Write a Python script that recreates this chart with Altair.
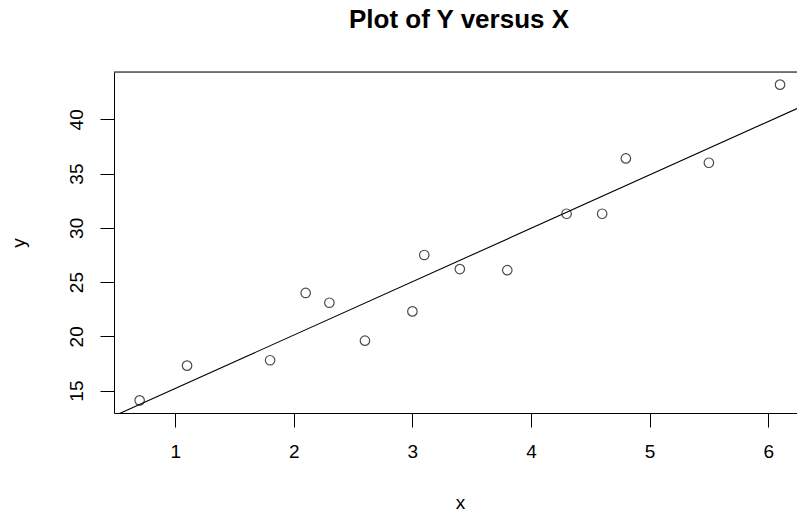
import altair as alt
import pandas as pd

# Data (fire damage style data)
x_vals = [3.4, 1.8, 4.6, 2.3, 3.1, 5.5, 0.7, 3.0, 2.6, 4.3, 2.1, 1.1, 6.1, 4.8, 3.8]
y_vals = [26.2, 17.8, 31.3, 23.1, 27.5, 36.0, 14.1, 22.3, 19.6, 31.3, 24.0, 17.3, 43.2, 36.4, 26.1]
x_ticks = [1, 2, 3, 4, 5, 6]
y_ticks = [15, 20, 25, 30, 35, 40]

df = pd.DataFrame({"x": x_vals, "y": y_vals})

X_DOMAIN = [0.484, 6.243]
Y_DOMAIN = [12.936, 44.364]
W, H = 683, 341
FONT = "Liberation Sans"

xscale = alt.Scale(domain=X_DOMAIN, nice=False, zero=False)
yscale = alt.Scale(domain=Y_DOMAIN, nice=False, zero=False)

x_axis = alt.Axis(
    values=x_ticks, grid=False, tickSize=14, labelPadding=15, labelFontSize=19,
    labelFont=FONT, labelColor="black", domainColor="black", tickColor="black",
    title="x", titleFont=FONT, titleFontSize=19, titleFontWeight="normal",
    titleColor="black", titleX=346, titleY=95, titleBaseline="alphabetic",
    titleAlign="center", format="d", labelFlush=False,
)
y_axis = alt.Axis(
    values=y_ticks, grid=False, tickSize=14, labelPadding=18, labelFontSize=19,
    labelFont=FONT, labelColor="black", labelAngle=270, labelAlign="center",
    labelBaseline="alphabetic", domainColor="black", tickColor="black",
    title="y", titleFont=FONT, titleFontSize=19, titleFontWeight="normal",
    titleColor="black", titleAngle=270, titleX=-90, titleY=170.5,
    titleBaseline="alphabetic", titleAlign="center", format="d", labelFlush=False,
)

base = alt.Chart(df)

points = base.mark_point(
    shape="circle", filled=False, color="black", size=90, strokeWidth=1.2, clip=True
).encode(
    x=alt.X("x:Q", scale=xscale, axis=x_axis),
    y=alt.Y("y:Q", scale=yscale, axis=y_axis),
)

fit = base.transform_regression(
    "x", "y", extent=X_DOMAIN
).mark_line(color="black", strokeWidth=1.1, clip=True).encode(
    x=alt.X("x:Q", scale=xscale),
    y=alt.Y("y:Q", scale=yscale),
)

top_line = alt.Chart(pd.DataFrame({"a": [0]})).mark_rule(
    color="black", strokeWidth=1
).encode(x=alt.value(0), x2=alt.value(W), y=alt.value(0))

chart = alt.layer(points, fit, top_line).properties(
    width=W,
    height=H,
    autosize=alt.AutoSizeParams(type="none"),
    padding={"left": 114, "top": 72, "right": 0, "bottom": 99},
    title=alt.TitleParams(
        "Plot of Y versus X", font=FONT, fontSize=26, fontWeight="bold",
        color="black", anchor="middle", dx=3.5, dy=25, offset=43, baseline="alphabetic",
        frame="group",
    ),
).configure_view(stroke=None).configure(background="white")

chart.save("out.html", embed_options={"renderer": "svg", "actions": False})
